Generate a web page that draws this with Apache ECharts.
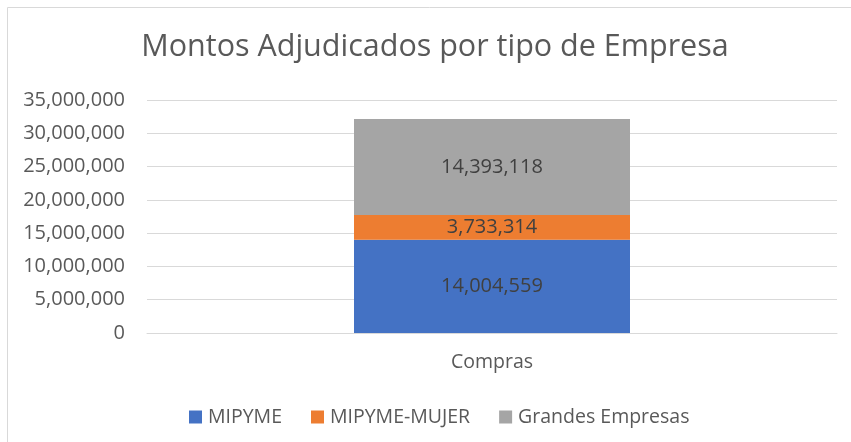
<!DOCTYPE html>
<html>
<head>
<meta charset="utf-8">
<script src="https://cdn.jsdelivr.net/npm/echarts@6/dist/echarts.min.js"></script>
<style>
  html, body { margin: 0; padding: 0; background: #fff; }
  #chart { width: 851px; height: 442px; }
</style>
</head>
<body>
<div id="chart"></div>
<script>
const categories = ["Compras"];
const seriesNames = ["MIPYME", "MIPYME-MUJER", "Grandes Empresas"];
const mipyme = [14004559];
const mipymeMujer = [3733314];
const grandes = [14393118];
const seriesColors = ["#4472C4", "#ED7D31", "#A5A5A5"];

const FONT = "Open Sans";
const fmt = v => Number(v).toLocaleString("en-US");

const chart = echarts.init(document.getElementById("chart"));

const makeSeries = (name, data, color) => ({
  name: name,
  type: "bar",
  stack: "total",
  data: data,
  barWidth: "40%",
  itemStyle: { color: color },
  label: {
    show: true,
    position: "inside",
    color: "#404040",
    fontSize: 20,
    fontFamily: FONT,
    formatter: p => fmt(p.value)
  }
});

chart.setOption({
  animation: false,
  textStyle: { fontFamily: FONT },
  graphic: [
    {
      type: "rect",
      shape: { x: 7.5, y: 7.5, width: 900, height: 500 },
      style: { fill: "none", stroke: "#d9d9d9", lineWidth: 1 }
    }
  ],
  title: {
    text: "Montos Adjudicados por tipo de Empresa",
    left: 430,
    top: 27,
    textAlign: "center",
    textStyle: {
      fontFamily: FONT,
      fontSize: 30.5,
      fontWeight: "normal",
      color: "#595959"
    }
  },
  legend: {
    data: seriesNames,
    left: 184,
    top: 402,
    icon: "rect",
    itemWidth: 13,
    itemHeight: 13,
    itemGap: 29,
    textStyle: { fontFamily: FONT, fontSize: 19.5, color: "#595959", padding: [0, 0, 0, 1] }
  },
  grid: { left: 147, right: 14, top: 100, bottom: 109 },
  xAxis: {
    type: "category",
    data: categories,
    axisLine: { show: true, lineStyle: { color: "#d9d9d9", width: 1 } },
    axisTick: { show: false },
    axisLabel: { fontFamily: FONT, fontSize: 19.5, color: "#595959", margin: 19 }
  },
  yAxis: {
    type: "value",
    min: 0,
    max: 35000000,
    interval: 5000000,
    axisLine: { show: false },
    axisTick: { show: false },
    splitLine: { lineStyle: { color: "#d9d9d9", width: 1 } },
    axisLabel: {
      fontFamily: FONT,
      fontSize: 20,
      color: "#595959",
      margin: 22,
      formatter: v => fmt(v)
    }
  },
  series: [
    makeSeries(seriesNames[0], mipyme, seriesColors[0]),
    makeSeries(seriesNames[1], mipymeMujer, seriesColors[1]),
    makeSeries(seriesNames[2], grandes, seriesColors[2])
  ]
});
</script>
</body>
</html>
